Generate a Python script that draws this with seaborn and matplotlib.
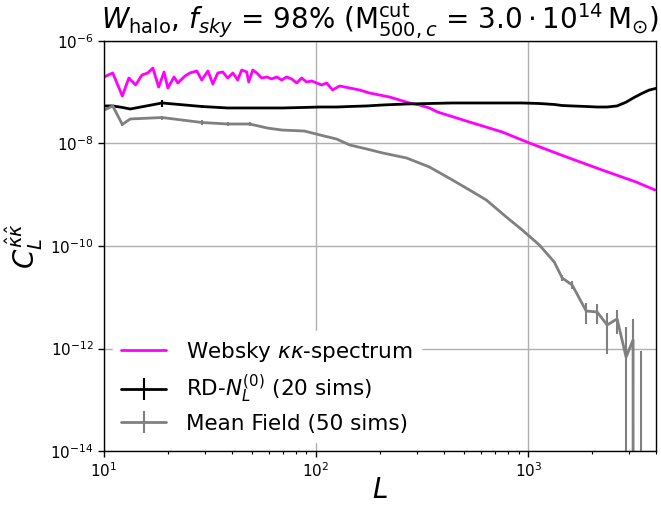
import matplotlib
matplotlib.use("Agg")
import numpy as np
import pandas as pd
import matplotlib.pyplot as plt
import seaborn as sns
from matplotlib.ticker import NullLocator

# Websky kappa-kappa spectrum (log10 of C_L) sampled along L
ell_kk = [10.0, 11.0, 12.2, 13.1, 14.1, 15.1, 16.1, 17.0, 18.1, 19.2, 20.0, 21.4,
          22.3, 24.1, 25.4, 27.4, 28.9, 30.9, 32.6, 34.4, 36.3, 38.3, 40.5, 42.7,
          44.6, 47.1, 48.1, 50.3, 52.5, 55.4, 58.5, 61.7, 65.2, 68.8, 72.6, 76.7,
          81.0, 85.5, 90.2, 95.2, 100.6, 106.1, 112.1, 119.6, 129.0, 143.8, 160.2,
          178.6, 199.0, 221.8, 247.2, 275.4, 306.9, 342.0, 373.2, 528.0, 754.0,
          1011.0, 1560.0, 2229.0, 3222.0, 3960.0]
kk_log10 = [-6.702, -6.624, -7.073, -6.722, -6.859, -6.663, -6.624, -6.527, -6.898,
            -6.605, -6.917, -6.702, -6.820, -6.683, -6.624, -6.585, -6.761, -6.585,
            -6.839, -6.624, -6.605, -6.722, -6.624, -6.761, -6.566, -6.605, -6.800,
            -6.566, -6.624, -6.722, -6.702, -6.741, -6.702, -6.761, -6.702, -6.741,
            -6.820, -6.722, -6.800, -6.780, -6.820, -6.859, -6.820, -6.956, -6.878,
            -6.917, -6.956, -7.015, -7.054, -7.093, -7.151, -7.210, -7.249, -7.307,
            -7.385, -7.580, -7.776, -7.990, -8.283, -8.517, -8.751, -8.907]

# Binned reconstruction outputs
ell_bins = [9.6, 11.0, 12.2, 13.3, 18.8, 28.9, 38.3, 48.6, 59.0, 69.0, 88.0, 104.0,
            125.0, 144.0, 173.0, 206.0, 267.0, 342.0, 439.0, 528.0, 634.0, 788.0,
            937.0, 1127.0, 1326.0, 1445.0, 1611.0, 1875.0, 2112.0, 2354.0, 2623.0,
            2892.0, 3120.0, 3402.0, 3710.0, 4100.0]

rdn0 = [5.40e-8, 5.40e-8, 5.05e-8, 4.71e-8, 6.17e-8, 5.27e-8, 4.93e-8, 4.93e-8,
        4.93e-8, 4.93e-8, 5.05e-8, 5.15e-8, 5.15e-8, 5.27e-8, 5.40e-8, 5.64e-8,
        5.90e-8, 6.03e-8, 6.17e-8, 6.17e-8, 6.17e-8, 6.17e-8, 6.17e-8, 6.03e-8,
        5.77e-8, 5.51e-8, 5.40e-8, 5.27e-8, 5.15e-8, 5.15e-8, 5.40e-8, 6.40e-8,
        7.70e-8, 9.30e-8, 1.10e-7, 1.22e-7]
rdn0_err = [1.5e-9, 1.5e-9, 1.5e-9, 1.5e-9, 1.0e-8, 4.5e-9, 2.5e-9, 2.0e-9,
            1.8e-9, 1.2e-9, 1.0e-9, 9e-10, 8e-10, 7e-10, 6e-10, 5e-10, 5e-10, 4e-10,
            4e-10, 4e-10, 4e-10, 4e-10, 4e-10, 4e-10, 4e-10, 4e-10, 4e-10, 4e-10,
            4e-10, 4e-10, 4e-10, 5e-10, 5e-10, 6e-10, 6e-10, 7e-10]

mean_field = [4.12e-8, 5.40e-8, 2.35e-8, 3.01e-8, 3.21e-8, 2.57e-8, 2.40e-8, 2.40e-8,
              2.00e-8, 1.83e-8, 1.75e-8, 1.47e-8, 1.22e-8, 9.35e-9, 7.82e-9, 6.53e-9,
              5.21e-9, 3.48e-9, 1.94e-9, 1.24e-9, 7.91e-10, 3.68e-10, 2.05e-10,
              1.05e-10, 4.88e-11, 2.38e-11, 1.73e-11, 5.40e-12, 5.15e-12, 2.88e-12,
              3.77e-12, 6.82e-13, 1.47e-12, -1.5e-12]
mean_field_err = [2.0e-9, 2.0e-9, 1.5e-9, 1.5e-9, 3.0e-9, 2.5e-9, 2.0e-9, 2.0e-9,
                  1.0e-9, 6e-10, 5e-10, 4e-10, 3e-10, 2e-10, 1.5e-10, 1.2e-10, 1e-10,
                  6e-11, 4e-11, 2.5e-11, 1.5e-11, 8e-12, 5e-12, 3e-12, 2.5e-12,
                  2.8e-12, 3.0e-12, 2.4e-12, 2.1e-12, 2.1e-12, 1.85e-12, 1.96e-12,
                  2.3e-12, 2.4e-12]

sns.set_style("ticks", {
    "axes.grid": True,
    "grid.color": "#b0b0b0",
    "grid.linewidth": 1.0,
    "axes.edgecolor": "black",
    "axes.labelcolor": "black",
    "text.color": "black",
    "xtick.color": "black",
    "ytick.color": "black",
})
plt.rcParams["font.family"] = ["DejaVu Sans"]
plt.rcParams["mathtext.fontset"] = "dejavusans"

fig = plt.figure(figsize=(6.61, 5.11), dpi=100)
ax = fig.add_axes([0.1573, 0.1174, 0.8351, 0.8024])

kk_df = pd.DataFrame({"L": ell_kk, "C": 10.0 ** np.array(kk_log10)})
sns.lineplot(data=kk_df, x="L", y="C", color="magenta", lw=2,
             estimator=None, sort=False, ax=ax,
             label=r"Websky $\kappa\kappa$-spectrum")

ax.errorbar(ell_bins, rdn0, yerr=rdn0_err, color="black", lw=2,
            elinewidth=1.5, label=r"RD-$N_L^{(0)}$ (20 sims)")
n_mf = len(mean_field)
ax.errorbar(ell_bins[:n_mf], mean_field, yerr=mean_field_err, color="grey",
            lw=2, elinewidth=1.5, label="Mean Field (50 sims)")

ax.set_xscale("log")
ax.set_yscale("log")
ax.set_xlim(10, 4000)
ax.set_ylim(1e-14, 1e-6)
ax.set_yticks([1e-14, 1e-12, 1e-10, 1e-8, 1e-6])
ax.yaxis.set_minor_locator(NullLocator())
ax.grid(True, which="major", color="#b0b0b0", lw=1.0)
ax.tick_params(axis="both", which="major", labelsize=11, direction="out",
               length=4, width=1)
ax.tick_params(axis="x", which="minor", direction="out", length=2.5, width=0.8)
for s in ax.spines.values():
    s.set_linewidth(1.0)
    s.set_color("black")

ax.set_xlabel(r"$L$", fontsize=20, labelpad=-3)
ax.set_ylabel(r"$C_L^{\hat{\kappa}\hat{\kappa}}$", fontsize=20)
ax.set_title(r"$W_{\rm halo}$, $f_{sky}$ = 98% (M$^{\rm cut}_{500,c}$ = "
             r"$3.0\cdot10^{14}\,$M$_{\odot}$)", fontsize=20, pad=2)

leg = ax.legend(loc="lower left", fontsize=15.5, frameon=True, framealpha=1,
                edgecolor="white", facecolor="white", handlelength=2.1,
                handletextpad=0.9, labelspacing=0.4, borderaxespad=0.4)

fig.savefig("out.png", dpi=100)
